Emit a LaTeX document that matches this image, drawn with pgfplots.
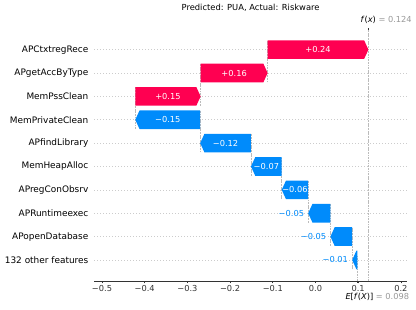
\documentclass[border=0pt]{standalone}
\usepackage{fontspec}
\setmainfont{DejaVu Sans}
\usepackage{pgfplots}
\pgfplotsset{compat=1.18}
\definecolor{shapred}{HTML}{FF0051}
\definecolor{shapblue}{HTML}{008BFB}
\definecolor{axisgray}{HTML}{333333}
\definecolor{gridgray}{HTML}{CCCCCC}
\definecolor{linegray}{HTML}{BBBBBB}
\definecolor{lblgray}{HTML}{999999}
\newcommand\lblfont{\fontsize{8.25}{10}\selectfont}
\begin{document}
\begin{tikzpicture}
\useasboundingbox (0,0) rectangle (416pt,309pt);
\node[font=\fontsize{8.35}{10}\selectfont] at (250.6pt,301pt) {Predicted: PUA, Actual: Riskware};
\begin{axis}[
  at={(94.3pt,28pt)}, anchor=south west,
  scale only axis, width=312.7pt, height=251pt,
  xmin=-0.518, xmax=0.2144, ymin=-0.9, ymax=9.84,
  axis line style={draw=none},
  tick align=outside, major tick length=2.4pt,
  xtick pos=bottom, ytick pos=left,
  x tick style={axisgray, line width=0.6pt},
  y tick style={draw=none},
  xtick={-0.5,-0.4,-0.3,-0.2,-0.1,0,0.1,0.2},
  xticklabels={−0.5,−0.4,−0.3,−0.2,−0.1,0.0,0.1,0.2},
  ytick={0,1,2,3,4,5,6,7,8,9},
  yticklabels={132 other features, APopenDatabase, APRuntimeexec, APregConObsrv, MemHeapAlloc, APfindLibrary, MemPrivateClean, MemPssClean, APgetAccByType, APCtxtregRece},
  yticklabel style={font=\fontsize{8.94}{10}\selectfont, text=black},
  xticklabel style={font=\lblfont, text=axisgray, yshift=1.2pt},
  ymajorgrids, grid style={gridgray, line width=0.5pt, dash pattern=on 0.5pt off 2.5pt},
  clip=false,
]
% bottom spine
\draw[axisgray, line width=0.6pt] (rel axis cs:0,0) -- (rel axis cs:1,0);
% reference lines
\addplot[linegray, line width=0.5pt, dash pattern=on 1.85pt off 0.8pt, mark=none, forget plot] coordinates {(0.124,-0.9) (0.124,9.84)};
\addplot[linegray, line width=0.5pt, dash pattern=on 1.85pt off 0.8pt, mark=none, forget plot] coordinates {(0.098,-0.9) (0.098,0.174)};
% connectors
\addplot[linegray, line width=0.5pt, dash pattern=on 1.85pt off 0.8pt, mark=none, forget plot] coordinates {(0.086,-0.4) (0.086,1.4)};
\addplot[linegray, line width=0.5pt, dash pattern=on 1.85pt off 0.8pt, mark=none, forget plot] coordinates {(0.035,0.6) (0.035,2.4)};
\addplot[linegray, line width=0.5pt, dash pattern=on 1.85pt off 0.8pt, mark=none, forget plot] coordinates {(-0.017,1.6) (-0.017,3.4)};
\addplot[linegray, line width=0.5pt, dash pattern=on 1.85pt off 0.8pt, mark=none, forget plot] coordinates {(-0.079,2.6) (-0.079,4.4)};
\addplot[linegray, line width=0.5pt, dash pattern=on 1.85pt off 0.8pt, mark=none, forget plot] coordinates {(-0.151,3.6) (-0.151,5.4)};
\addplot[linegray, line width=0.5pt, dash pattern=on 1.85pt off 0.8pt, mark=none, forget plot] coordinates {(-0.270,4.6) (-0.270,6.4)};
\addplot[linegray, line width=0.5pt, dash pattern=on 1.85pt off 0.8pt, mark=none, forget plot] coordinates {(-0.422,5.6) (-0.422,7.4)};
\addplot[linegray, line width=0.5pt, dash pattern=on 1.85pt off 0.8pt, mark=none, forget plot] coordinates {(-0.269,6.6) (-0.269,8.4)};
\addplot[linegray, line width=0.5pt, dash pattern=on 1.85pt off 0.8pt, mark=none, forget plot] coordinates {(-0.112,7.6) (-0.112,9.4)};
% positive arrows
\addplot[draw=none, fill=shapred, mark=none, forget plot] coordinates {(-0.112,8.6) (0.114,8.6) (0.124,9) (0.114,9.4) (-0.112,9.4)} -- cycle;
\addplot[draw=none, fill=shapred, mark=none, forget plot] coordinates {(-0.269,7.6) (-0.122,7.6) (-0.112,8) (-0.122,8.4) (-0.269,8.4)} -- cycle;
\addplot[draw=none, fill=shapred, mark=none, forget plot] coordinates {(-0.422,6.6) (-0.279,6.6) (-0.269,7) (-0.279,7.4) (-0.422,7.4)} -- cycle;
% negative arrows
\addplot[draw=none, fill=shapblue, mark=none, forget plot] coordinates {(-0.270,5.6) (-0.412,5.6) (-0.422,6) (-0.412,6.4) (-0.270,6.4)} -- cycle;
\addplot[draw=none, fill=shapblue, mark=none, forget plot] coordinates {(-0.151,4.6) (-0.260,4.6) (-0.270,5) (-0.260,5.4) (-0.151,5.4)} -- cycle;
\addplot[draw=none, fill=shapblue, mark=none, forget plot] coordinates {(-0.079,3.6) (-0.141,3.6) (-0.151,4) (-0.141,4.4) (-0.079,4.4)} -- cycle;
\addplot[draw=none, fill=shapblue, mark=none, forget plot] coordinates {(-0.017,2.6) (-0.069,2.6) (-0.079,3) (-0.069,3.4) (-0.017,3.4)} -- cycle;
\addplot[draw=none, fill=shapblue, mark=none, forget plot] coordinates {(0.035,1.6) (-0.007,1.6) (-0.017,2) (-0.007,2.4) (0.035,2.4)} -- cycle;
\addplot[draw=none, fill=shapblue, mark=none, forget plot] coordinates {(0.086,0.6) (0.045,0.6) (0.035,1) (0.045,1.4) (0.086,1.4)} -- cycle;
\addplot[draw=none, fill=shapblue, mark=none, forget plot] coordinates {(0.098,-0.4) (0.096,-0.4) (0.086,0) (0.096,0.4) (0.098,0.4)} -- cycle;
% value labels
\node[font=\lblfont, text=white] at (axis cs:0.006,9) {+0.24};
\node[font=\lblfont, text=white] at (axis cs:-0.1905,8) {+0.16};
\node[font=\lblfont, text=white] at (axis cs:-0.3455,7) {+0.15};
\node[font=\lblfont, text=white] at (axis cs:-0.346,6) {−0.15};
\node[font=\lblfont, text=white] at (axis cs:-0.2105,5) {−0.12};
\node[font=\lblfont, text=white] at (axis cs:-0.115,4) {−0.07};
\node[font=\lblfont, text=white] at (axis cs:-0.048,3) {−0.06};
\node[font=\lblfont, text=shapblue, anchor=east, xshift=-4pt, inner sep=0pt] at (axis cs:-0.017,2) {−0.05};
\node[font=\lblfont, text=shapblue, anchor=east, xshift=-4pt, inner sep=0pt] at (axis cs:0.035,1) {−0.05};
\node[font=\lblfont, text=shapblue, anchor=east, xshift=-4pt, inner sep=0pt] at (axis cs:0.086,0) {−0.01};
% f(x) and E[f(X)] ticks and labels
\draw[axisgray, line width=0.6pt] (axis cs:0.124,9.84) -- ++(0pt,2.4pt);
\draw[axisgray, line width=0.6pt] (axis cs:0.098,-0.9) -- ++(0pt,-2.4pt);
\node[font=\lblfont, anchor=west, inner sep=0pt, xshift=-8pt, yshift=10pt] at (axis cs:0.124,9.84) {\textit{f}(\textit{x}) \textcolor{lblgray}{= 0.124}};
\node[font=\lblfont, anchor=west, inner sep=0pt, xshift=-12pt, yshift=-16.3pt] at (axis cs:0.098,-0.9) {\textit{E}[\textit{f}(\textit{X})] \textcolor{lblgray}{= 0.098}};
\end{axis}
\end{tikzpicture}
\end{document}
